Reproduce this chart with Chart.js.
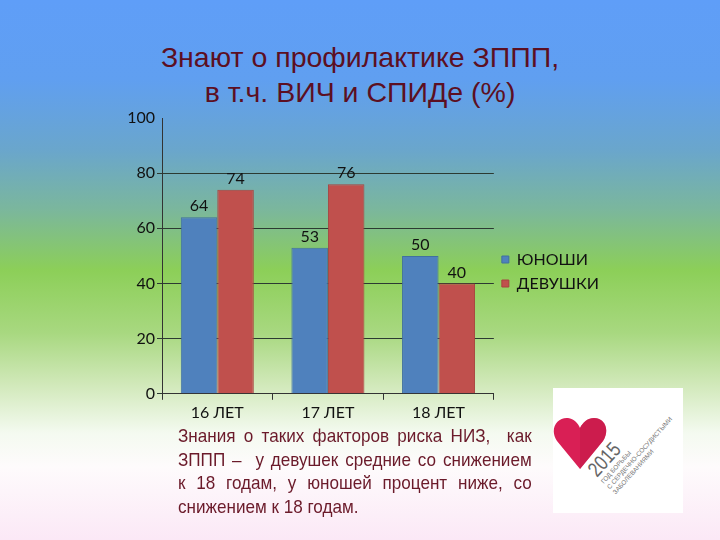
<!DOCTYPE html>
<html lang="ru">
<head>
<meta charset="utf-8">
<script src="https://cdn.jsdelivr.net/npm/chart.js@4.4.0/dist/chart.umd.min.js"></script>
<style>
  html, body { margin: 0; padding: 0; }
  body {
    width: 720px; height: 540px; position: relative; overflow: hidden;
    background: linear-gradient(to bottom,
      #5f9ef8 0px, #609ff0 80px, #6aa6cc 150px, #7bb79c 210px,
      #8ccf58 270px, #a8d880 333px, #d0e8b8 383px, #f4faf0 433px,
      #fefbfc 467px, #fbe8f6 540px);
  }
  .titul {
    position: absolute; left: 0; top: 40px; width: 720px;
    text-align: center; color: #5c0f22;
    font: 28.5px/35px "Liberation Sans", Arial, sans-serif;
  }
  #grafik { position: absolute; left: 0; top: 100px; }
  .tekst {
    position: absolute; left: 178px; top: 424px; width: 393px;
    transform: scaleX(0.9); transform-origin: left top;
    color: #6b1a2a; font: 19px/23.5px "Liberation Sans", Arial, sans-serif;
  }
  .tekst div { text-align: justify; text-align-last: justify; white-space: nowrap; }
  .tekst div.last { text-align-last: left; }
  .logo {
    position: absolute; left: 553px; top: 388px; width: 130px; height: 125px;
    background: #ffffff;
  }
</style>
</head>
<body>
<div class="titul">Знают о профилактике ЗППП,<br>в т.ч. ВИЧ и СПИДе (%)</div>
<canvas id="grafik" width="720" height="330"></canvas>
<div class="tekst">
  <div>Знания о таких факторов риска НИЗ,&nbsp; как</div>
  <div>ЗППП – &nbsp;у девушек средние со снижением</div>
  <div>к 18 годам, у юношей процент ниже, со</div>
  <div class="last">снижением к 18 годам.</div>
</div>
<div class="logo">
  <svg width="130" height="125" viewBox="0 0 130 125">
    <path d="M27 81 L4 53 C-4 41 4 29 15 30 C21 31 25 35 27 40 C30 34 35 30 41 30 C52 30 57 42 50 53 Z" fill="#d91f55"/>
    <path d="M27 81 L27 40 C30 34 35 30 41 30 C52 30 57 42 50 53 Z" fill="#c31a47" opacity="0.6"/>
    <g transform="translate(44 90) rotate(-48)" font-family="Liberation Sans, sans-serif" fill="#777">
      <text x="0" y="0" font-size="21" fill="#666" transform="scale(0.8 1)">2015</text>
      <text x="0" y="9" font-size="6.4">ГОД БОРЬБЫ</text>
      <text x="0" y="17" font-size="6.4">С СЕРДЕЧНО-СОСУДИСТЫМИ</text>
      <text x="0" y="25" font-size="6.4">ЗАБОЛЕВАНИЯМИ</text>
    </g>
  </svg>
</div>
<script>
const kategorii = ["16 ЛЕТ", "17 ЛЕТ", "18 ЛЕТ"];
const yunoshi = [64, 53, 50];
const devushki = [74, 76, 40];
const shkalaY = [0, 20, 40, 60, 80, 100];

// подписи значений над столбиками
const podpisi = {
  id: "podpisi",
  afterDatasetsDraw(chart) {
    const ctx = chart.ctx;
    ctx.save();
    ctx.font = "16px Lato, sans-serif";
    ctx.fillStyle = "#111";
    ctx.textAlign = "center";
    ctx.textBaseline = "bottom";
    chart.data.datasets.forEach((ds, i) => {
      chart.getDatasetMeta(i).data.forEach((bar, j) => {
        ctx.fillText(ds.data[j], bar.x, bar.y - 3);
      });
    });
    ctx.restore();
  }
};

new Chart(document.getElementById("grafik"), {
  type: "bar",
  data: {
    labels: kategorii,
    datasets: [
      { label: "ЮНОШИ", data: yunoshi, backgroundColor: "#4f81bd", borderColor: "#41709f", borderWidth: 1 },
      { label: "ДЕВУШКИ", data: devushki, backgroundColor: "#c0504d", borderColor: "#a8433f", borderWidth: 1 }
    ]
  },
  options: {
    responsive: false,
    animation: false,
    layout: { padding: { left: 120, top: 18, right: 111, bottom: 5 } },
    datasets: { bar: { categoryPercentage: 0.66, barPercentage: 1 } },
    plugins: {
      tooltip: { enabled: false },
      legend: {
        position: "right",
        labels: {
          boxWidth: 7, boxHeight: 7, padding: 8, color: "#111",
          font: { family: "Lato, sans-serif", size: 16 }
        }
      }
    },
    scales: {
      x: {
        grid: { offset: true, drawOnChartArea: false, drawTicks: true, tickLength: 6, color: "#333" },
        border: { color: "#333" },
        ticks: { color: "#111", padding: 3, font: { family: "Lato, sans-serif", size: 16 } }
      },
      y: {
        min: 0, max: 100,
        afterBuildTicks(scale) { scale.ticks = shkalaY.map(v => ({ value: v })); },
        afterFit(scale) { scale.width = 42; },
        grid: {
          tickLength: 5,
          color: c => (c.tick && c.tick.value === 100 ? "rgba(0,0,0,0)" : "#2c3a32")
        },
        border: { color: "#333" },
        ticks: { color: "#111", padding: 2, font: { family: "Lato, sans-serif", size: 16 } }
      }
    }
  },
  plugins: [podpisi]
});
</script>
</body>
</html>
